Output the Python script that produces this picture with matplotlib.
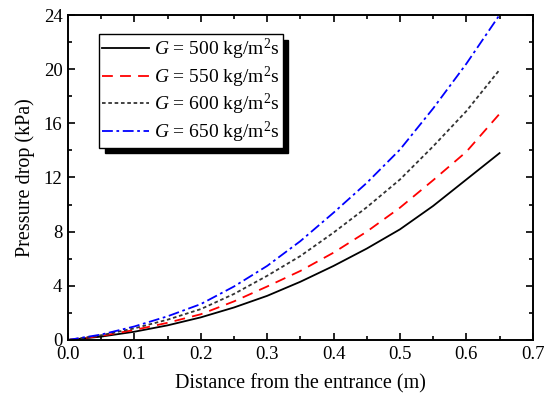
import matplotlib.pyplot as plt
import numpy as np

plt.rcParams['font.family'] = 'Liberation Serif'
plt.rcParams['mathtext.fontset'] = 'custom'
plt.rcParams['mathtext.rm'] = 'Liberation Serif'
plt.rcParams['mathtext.it'] = 'Liberation Serif:italic'

# distancia (m)
x = [0.0, 0.05, 0.1, 0.15, 0.2, 0.25, 0.3, 0.35, 0.4, 0.45, 0.5, 0.55, 0.6, 0.65]

# caida de presion (kPa) para cada flujo masico
dp_500 = [0, 0.25, 0.61, 1.08, 1.67, 2.4, 3.26, 4.3, 5.47, 6.75, 8.17, 9.9, 11.85, 13.8]
dp_550 = [0, 0.30, 0.74, 1.27, 1.9, 2.85, 3.95, 5.1, 6.45, 8.0, 9.77, 11.8, 13.9, 16.7]
dp_600 = [0, 0.35, 0.86, 1.5, 2.28, 3.4, 4.74, 6.2, 7.93, 9.8, 11.85, 14.3, 16.9, 19.95]
dp_650 = [0, 0.40, 1.0, 1.75, 2.65, 3.95, 5.47, 7.3, 9.4, 11.6, 14.06, 17.1, 20.4, 24.0]

etiquetas = [r'$G$ = 500 kg/m$^2$s', r'$G$ = 550 kg/m$^2$s',
             r'$G$ = 600 kg/m$^2$s', r'$G$ = 650 kg/m$^2$s']

fig = plt.figure(figsize=(5.5, 3.99), dpi=100)
ax = fig.add_axes([0.1236, 0.1479, 0.845, 0.8145])

ax.plot(x, dp_500, color='black', lw=1.3, label=etiquetas[0])
ax.plot(x, dp_550, color='red', lw=1.3, ls=(0, (6, 4)), label=etiquetas[1])
ax.plot(x, dp_600, color='#333333', lw=1.3, ls=(0, (2, 1.5)), label=etiquetas[2])
ax.plot(x, dp_650, color='blue', lw=1.3, ls=(0, (6, 2, 1.5, 2)), label=etiquetas[3])

ax.set_xlim(0, 0.7)
ax.set_ylim(0, 24)
ax.set_xticks(np.arange(0, 0.71, 0.1))
ax.set_xticks(np.arange(0.05, 0.7, 0.1), minor=True)
ax.set_yticks(np.arange(0, 25, 4))
ax.set_yticks(np.arange(2, 24, 4), minor=True)
ax.xaxis.set_major_formatter(plt.FormatStrFormatter('%.1f'))
ax.tick_params(which='both', direction='in', top=True, right=True, labelsize=13.5, width=1.2, pad=4)
ax.tick_params(which='major', length=5)
ax.tick_params(which='minor', length=3)
for s in ax.spines.values():
    s.set_linewidth(1.4)

ax.set_xlabel('Distance from the entrance (m)', fontsize=14.5, labelpad=8)
ax.set_ylabel('Pressure drop (kPa)', fontsize=14.5, labelpad=6)

leg = ax.legend(loc='upper left', bbox_to_anchor=(0.0667, 0.9415), borderaxespad=0,
                fontsize=14, handlelength=2.4, handletextpad=0.3, labelspacing=0.12,
                borderpad=0.15, fancybox=False, edgecolor='black', framealpha=1,
                shadow={'ox': 4, 'oy': -4, 'facecolor': 'black', 'edgecolor': 'black', 'alpha': 1})
leg.get_frame().set_linewidth(1.0)

plt.savefig('out.png', dpi=100)
